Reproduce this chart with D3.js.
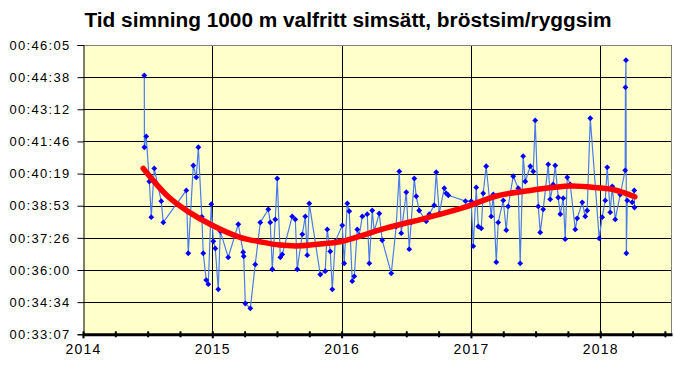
<!DOCTYPE html>
<html><head><meta charset="utf-8">
<script src="https://cdn.jsdelivr.net/npm/d3@7"></script>
<style>
html,body{margin:0;padding:0;background:#fff;}
svg{display:block;font-family:"Liberation Sans",Arial,sans-serif;}
</style></head>
<body>
<svg id="chart" width="674" height="366"></svg>
<script>
const title = "Tid simning 1000 m valfritt simsätt, bröstsim/ryggsim";
const xTicks = [2014, 2015, 2016, 2017, 2018];
const xTickLabels = ["2014", "2015", "2016", "2017", "2018"];
const xDomain = [2014, 2018.555];
const yTicksDays = [0.023, 0.024, 0.025, 0.026, 0.027, 0.028, 0.029, 0.030, 0.031, 0.032];
const yTickLabels = ["00:33:07","00:34:34","00:36:00","00:37:26","00:38:53","00:40:19","00:41:46","00:43:12","00:44:38","00:46:05"];

// measurement dates (decimal years) and swim times (mm:ss)
const dates = [2014.474,2014.475,2014.489,2014.513,2014.528,2014.551,2014.605,2014.621,2014.799,2014.814,
2014.853,2014.876,2014.892,2014.919,2014.930,2014.953,2014.969,2014.992,2015.008,2015.023,
2015.046,2015.062,2015.123,2015.201,2015.239,2015.243,2015.255,2015.294,2015.332,2015.371,
2015.433,2015.448,2015.464,2015.487,2015.502,2015.526,2015.541,2015.618,2015.642,2015.657,
2015.696,2015.719,2015.734,2015.750,2015.835,2015.873,2015.889,2015.912,2015.928,2015.951,
2016.005,2016.020,2016.044,2016.059,2016.082,2016.098,2016.121,2016.136,2016.160,2016.198,
2016.214,2016.237,2016.252,2016.291,2016.314,2016.384,2016.422,2016.446,2016.461,2016.500,
2016.523,2016.538,2016.562,2016.577,2016.600,2016.654,2016.678,2016.716,2016.732,2016.755,
2016.794,2016.809,2016.825,2016.958,2017.002,2017.018,2017.041,2017.057,2017.080,2017.095,
2017.118,2017.157,2017.173,2017.196,2017.211,2017.250,2017.273,2017.288,2017.327,2017.366,
2017.381,2017.404,2017.420,2017.459,2017.482,2017.497,2017.521,2017.536,2017.559,2017.598,
2017.613,2017.636,2017.652,2017.675,2017.691,2017.714,2017.729,2017.745,2017.768,2017.807,
2017.822,2017.861,2017.884,2017.899,2017.923,2017.992,2018.015,2018.039,2018.054,2018.077,
2018.093,2018.116,2018.155,2018.193,2018.195,2018.199,2018.202,2018.209,2018.247,2018.263,2018.265];
const times = ["44:43","41:30","41:59","39:58","38:22","40:33","39:05","38:08","39:34","36:45",
"40:41","40:09","41:30","38:23","36:45","35:33","35:22","38:57","37:17","36:58",
"35:08","37:44","36:34","38:03","36:48","36:37","34:30","34:17","36:15","38:08",
"38:43","38:08","36:02","38:16","40:06","36:34","36:42","38:24","38:16","36:02",
"37:36","38:24","36:40","38:59","35:48","35:57","37:49","36:50","35:08","37:17",
"38:00","36:18","38:59","38:38","35:30","35:43","37:49","37:33","38:24","38:30",
"36:18","38:40","37:44","38:32","37:20","35:51","37:57","40:25","37:39","39:29",
"36:56","38:08","40:06","39:18","38:40","38:11","38:30","38:54","40:23","38:32",
"39:40","39:26","39:21","39:05","39:05","37:04","39:42","37:57","37:52","39:26",
"40:39","38:24","39:23","36:21","38:08","39:07","37:47","38:51","40:12","39:40",
"36:18","41:06","39:58","40:39","40:25","42:42","38:51","37:41","38:43","40:44",
"39:10","39:50","40:41","39:15","38:30","39:13","37:23","40:09","39:50","37:49",
"38:19","39:02","38:24","38:40","42:48","37:25","38:22","39:07","40:36","38:35",
"39:45","38:16","39:23","40:28","44:11","45:24","36:45","39:07","39:02","39:34","38:48"];

// trendline (polynomial)
const trendDates = [2014.466,2014.660,2014.814,2014.995,2015.214,2015.369,2015.523,2015.678,2015.833,2015.987,2016.335,2016.644,2016.954,2017.199,2017.482,2017.766,2017.984,2018.113,2018.268];
const trendTimes = ["40:33","39:17","38:37","38:01","37:28","37:16","37:07","37:05","37:10","37:16","37:52","38:19","38:49","39:19","39:35","39:46","39:41","39:35","39:17"];

const toSec = t => { const [m, s] = t.split(":").map(Number); return m * 60 + s; };

const svg = d3.select("#chart");
const L = 83, R = 672, T = 45, B = 334.3;

const x = d3.scaleLinear().domain(xDomain).range([L, R]);
const y = d3.scaleLinear().domain([yTicksDays[0] * 86400, yTicksDays[yTicksDays.length - 1] * 86400]).range([B, T]);

// plot background
svg.append("rect").attr("x", L).attr("y", T).attr("width", R - L).attr("height", B - T).attr("fill", "#FFFFCC");

// horizontal gridlines
svg.append("g").selectAll("line").data(yTicksDays.slice(1)).join("line")
  .attr("x1", L).attr("x2", R)
  .attr("y1", d => Math.round(y(d * 86400)) + 0.5).attr("y2", d => Math.round(y(d * 86400)) + 0.5)
  .attr("stroke", "#000").attr("stroke-width", 1);

// vertical gridlines
svg.append("g").selectAll("line").data(xTicks.slice(1)).join("line")
  .attr("y1", T).attr("y2", B)
  .attr("x1", d => Math.round(x(d)) + 0.5).attr("x2", d => Math.round(x(d)) + 0.5)
  .attr("stroke", "#000").attr("stroke-width", 1);

// frame top/right
svg.append("path").attr("d", `M${L},${T + 0.5}H${R - 0.5}V${B}`).attr("fill", "none").attr("stroke", "#808080");

// y axis
const yAxis = d3.axisLeft(y).tickValues(yTicksDays.map(d => d * 86400))
  .tickFormat((d, i) => yTickLabels[i]).tickSize(6).tickPadding(8);
const gy = svg.append("g").attr("transform", `translate(${L + 0.5},0)`).call(yAxis);
gy.select(".domain").attr("stroke", "#000");
gy.selectAll(".tick line").attr("stroke", "#000");
gy.selectAll("text").attr("font-size", 13).attr("letter-spacing", "1.3px").attr("fill", "#000")
  .attr("font-family", '"Liberation Sans",Arial,sans-serif').attr("dx", "1");

// x axis
const minorTicks = d3.range(xTicks[0], xDomain[1], 0.25).filter(v => !xTicks.includes(v));
const gxMinor = svg.append("g").attr("transform", `translate(0,${B})`)
  .call(d3.axisBottom(x).tickValues(minorTicks).tickFormat("").tickSizeInner(3).tickSizeOuter(0));
gxMinor.select(".domain").remove();
gxMinor.selectAll(".tick line").attr("stroke", "#000").attr("stroke-width", 2).attr("y1", -3);

const xAxis = d3.axisBottom(x).tickValues(xTicks).tickFormat((d, i) => xTickLabels[i]).tickSizeInner(4).tickSizeOuter(0).tickPadding(6);
const gx = svg.append("g").attr("transform", `translate(0,${B})`).call(xAxis);
gx.select(".domain").attr("stroke", "#000").attr("stroke-width", 3);
gx.selectAll(".tick line").attr("stroke", "#000").attr("stroke-width", 2).attr("y1", -3);
gx.selectAll("text").attr("font-size", 14).attr("letter-spacing", "1.2px").attr("fill", "#000")
  .attr("font-family", '"Liberation Sans",Arial,sans-serif');

// data line
const pts = dates.map((d, i) => ({ d, s: toSec(times[i]) }));
svg.append("path").datum(pts)
  .attr("d", d3.line().x(p => x(p.d)).y(p => y(p.s)))
  .attr("fill", "none").attr("stroke", "#4A7BEB").attr("stroke-width", 1.2);

// markers (diamonds)
svg.append("g").selectAll("path").data(pts).join("path")
  .attr("d", d3.symbol().type(d3.symbolSquare).size(17))
  .attr("transform", p => `translate(${x(p.d)},${y(p.s)}) rotate(45)`)
  .attr("fill", "#0000FF");

// trendline
const tpts = trendDates.map((d, i) => ({ d, s: toSec(trendTimes[i]) }));
svg.append("path").datum(tpts)
  .attr("d", d3.line().curve(d3.curveCatmullRom).x(p => x(p.d)).y(p => y(p.s)))
  .attr("fill", "none").attr("stroke", "#FF0000").attr("stroke-width", 5.5).attr("stroke-linecap", "round");

// title
svg.append("text").attr("x", 348).attr("y", 27).attr("text-anchor", "middle")
  .attr("font-size", 20).attr("font-weight", "bold").attr("fill", "#000")
  .attr("textLength", 527).attr("lengthAdjust", "spacingAndGlyphs")
  .text(title);
</script>
</body></html>
